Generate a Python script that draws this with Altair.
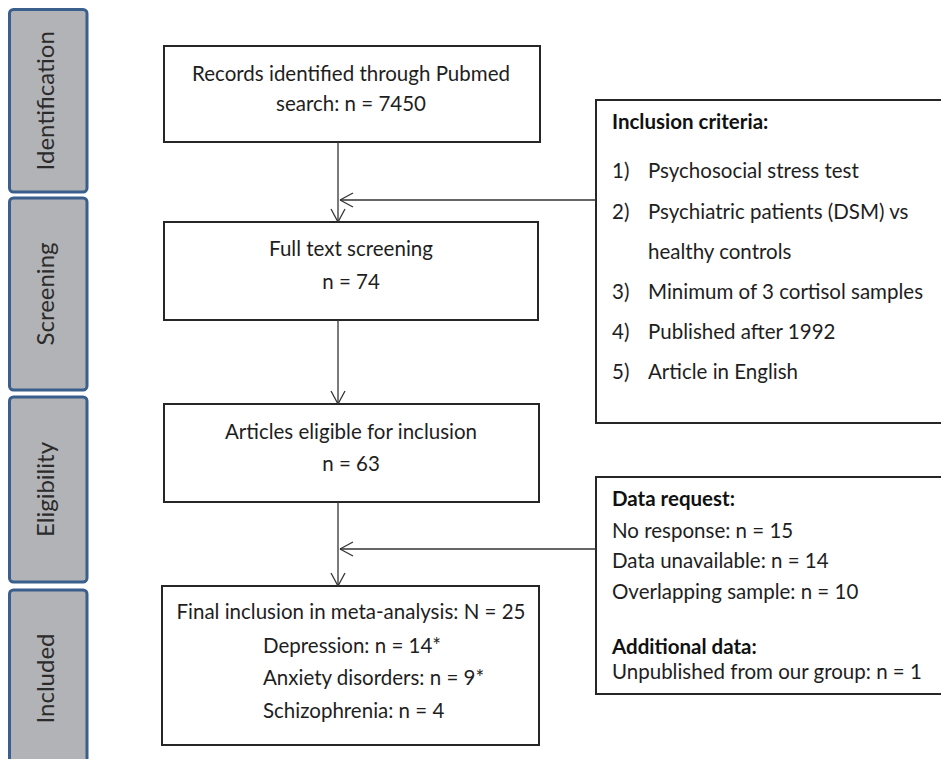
import altair as alt
import pandas as pd

# ---- layout in page pixel coordinates ----
W, H = 933, 751
XMIN, XMAX = 8, 8 + W
YMIN, YMAX = 8, 8 + H

# Phase side bars
phase_labels = ["Identification", "Screening", "Eligibility", "Included"]
phase_top = [9.5, 198, 397, 590]
phase_bottom = [192, 390, 582, 790]
phase_left, phase_right = 9.5, 87

# Main flow boxes
box_left = [164, 164, 164, 162]
box_right = [540, 538, 539, 539]
box_top = [46, 222, 404, 586]
box_bottom = [142, 320, 502, 745]

# Side boxes
side_left = [596, 596]
side_right = [970, 970]
side_top = [100, 477]
side_bottom = [423, 694]

# Texts
center_lines = ["Records identified through Pubmed", "search: n = 7450",
                "Full text screening", "n = 74",
                "Articles eligible for inclusion", "n = 63",
                "Final inclusion in meta-analysis: N = 25"]
center_y = [75, 105, 250, 283, 433, 465, 613]
center_x = 351

sub_lines = ["Depression: n = 14*", "Anxiety disorders: n = 9*", "Schizophrenia: n = 4"]
sub_y = [647, 679, 712]
sub_x = 263

bold_heads = ["Inclusion criteria:", "Data request:", "Additional data:"]
bold_y = [123, 500, 648]
bold_x = 612

crit_nums = ["1)", "2)", "3)", "4)", "5)"]
crit_num_y = [172, 213, 293, 333, 373]
crit_num_x = 612
crit_text = ["Psychosocial stress test", "Psychiatric patients (DSM) vs", "healthy controls",
             "Minimum of 3 cortisol samples", "Published after 1992", "Article in English"]
crit_text_y = [172, 213, 253, 293, 333, 373]
crit_text_x = 648

data_lines = ["No response: n = 15", "Data unavailable: n = 14",
              "Overlapping sample: n = 10", "Unpublished from our group: n = 1"]
data_y = [532, 562, 593, 673]
data_x = 612

# Arrows
arrow_x = 338
vert_from = [142, 320, 502]
vert_to = [222, 404, 586]
side_arrow_y = [200, 549]
side_arrow_tip = 340

# ---- build tables ----
phases = pd.DataFrame({"label": phase_labels, "y0": phase_top, "y1": phase_bottom,
                       "x0": phase_left, "x1": phase_right})
phases["yc"] = [(a + b) / 2 if i < 3 else (a + 767) / 2
                for i, (a, b) in enumerate(zip(phase_top, phase_bottom))]
phases["xc"] = (phase_left + phase_right) / 2 - 1

boxes = pd.DataFrame({"x0": box_left + side_left, "x1": box_right + side_right,
                      "y0": box_top + side_top, "y1": box_bottom + side_bottom})

segs = []
for a, b in zip(vert_from, vert_to):
    segs.append((arrow_x, a, arrow_x, b))
    segs.append((arrow_x - 7, b - 13, arrow_x, b))
    segs.append((arrow_x + 7, b - 13, arrow_x, b))
for y in side_arrow_y:
    segs.append((side_left[0], y, side_arrow_tip, y))
    segs.append((side_arrow_tip + 13, y - 7, side_arrow_tip, y))
    segs.append((side_arrow_tip + 13, y + 7, side_arrow_tip, y))
segdf = pd.DataFrame(segs, columns=["x", "y", "x2", "y2"])

ctext = pd.DataFrame({"t": center_lines, "y": center_y, "x": center_x})
ltext = pd.DataFrame({
    "t": sub_lines + crit_nums + crit_text + data_lines,
    "y": sub_y + crit_num_y + crit_text_y + data_y,
    "x": [sub_x] * 3 + [crit_num_x] * 5 + [crit_text_x] * 6 + [data_x] * 4,
})
btext = pd.DataFrame({"t": bold_heads, "y": bold_y, "x": bold_x})

xs = alt.Scale(domain=[XMIN, XMAX], nice=False, zero=False)
ys = alt.Scale(domain=[YMIN, YMAX], nice=False, zero=False, reverse=True)
noax = None

FONT = "Lato"
FS = 20.5
TC = "#1e1e1e"

phase_rect = alt.Chart(phases).mark_rect(
    fill="#b2b3b7", stroke="#3b5f8c", strokeWidth=3, cornerRadius=4, clip=True
).encode(
    x=alt.X("x0:Q", scale=xs, axis=noax), x2="x1:Q",
    y=alt.Y("y0:Q", scale=ys, axis=noax), y2="y1:Q",
)
phase_text = alt.Chart(phases).mark_text(
    angle=270, font=FONT, fontSize=24, color="#2b2b2b", align="center", baseline="middle"
).encode(
    x=alt.X("xc:Q", scale=xs, axis=noax), y=alt.Y("yc:Q", scale=ys, axis=noax), text="label:N"
)

box_rect = alt.Chart(boxes).mark_rect(
    fill="white", stroke="#262626", strokeWidth=2, clip=True
).encode(
    x=alt.X("x0:Q", scale=xs, axis=noax), x2="x1:Q",
    y=alt.Y("y0:Q", scale=ys, axis=noax), y2="y1:Q",
)

arrows = alt.Chart(segdf).mark_rule(color="#333333", strokeWidth=1.3).encode(
    x=alt.X("x:Q", scale=xs, axis=noax), x2="x2:Q",
    y=alt.Y("y:Q", scale=ys, axis=noax), y2="y2:Q",
)

center_t = alt.Chart(ctext).mark_text(
    font=FONT, fontSize=FS, color=TC, align="center", baseline="middle"
).encode(x=alt.X("x:Q", scale=xs, axis=noax), y=alt.Y("y:Q", scale=ys, axis=noax), text="t:N")

left_t = alt.Chart(ltext).mark_text(
    font=FONT, fontSize=FS, color=TC, align="left", baseline="middle"
).encode(x=alt.X("x:Q", scale=xs, axis=noax), y=alt.Y("y:Q", scale=ys, axis=noax), text="t:N")

bold_t = alt.Chart(btext).mark_text(
    font=FONT, fontSize=FS, fontWeight="bold", color="#111111", align="left", baseline="middle"
).encode(x=alt.X("x:Q", scale=xs, axis=noax), y=alt.Y("y:Q", scale=ys, axis=noax), text="t:N")

chart = alt.layer(
    phase_rect, phase_text, box_rect, arrows, center_t, left_t, bold_t
).properties(
    width=W, height=H, padding=0,
    autosize=alt.AutoSizeParams(type="fit", contains="padding"),
).configure_view(stroke=None)

chart.save("out.html", embed_options={"renderer": "svg", "actions": False})
